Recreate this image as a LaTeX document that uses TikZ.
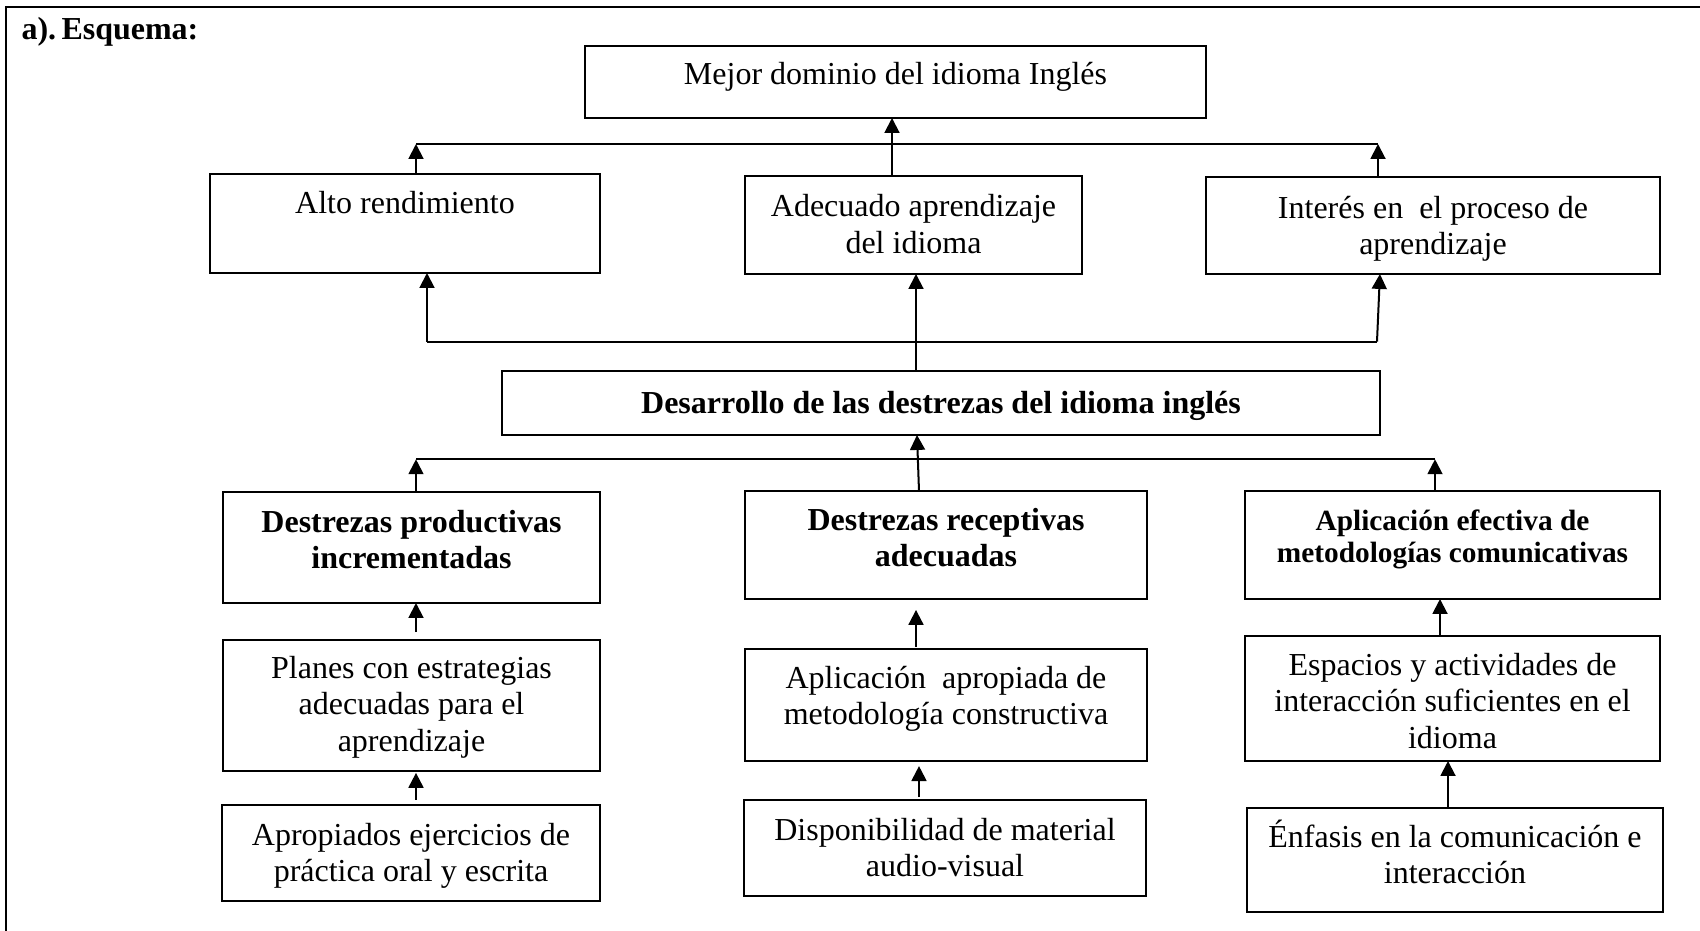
\documentclass[tikz,border=0pt]{standalone}
\usepackage{fontspec}
\setmainfont{Liberation Serif}
\usetikzlibrary{arrows.meta}
\newcommand\mkbox[5]{\node[box, minimum width={(#4-#2)*0.375pt}, minimum height={(#5-#3)*0.375pt}] (#1) at ({(#2+#4)/2},{(#3+#5)/2}) {};}
\newcommand\ml[1]{\begin{tabular}[t]{@{}c@{}}#1\end{tabular}}
\begin{document}
\begin{tikzpicture}[x=0.375pt, y=-0.375pt,
  box/.style={draw, line width=0.75pt, inner sep=0pt, outer sep=0pt},
  txt/.style={inner sep=0pt, anchor=base, font=\fontsize{12}{13.8}\selectfont},
  btxt/.style={txt, font=\fontsize{12}{13.8}\selectfont\bfseries},
  stxt/.style={txt, font=\fontsize{11}{12}\selectfont\bfseries},
  conn/.style={line width=0.75pt},
  arr/.style={conn, -{Triangle[length=5.6pt,width=5.6pt]}}]
\useasboundingbox (0,0) rectangle (1700,931);
% frame
\draw[line width=0.8pt] (1700,7) -- (6,7) -- (6,931);
\node[anchor=base west, inner sep=0pt, font=\fontsize{12}{13.8}\selectfont\bfseries] (title) at (21,39.5) {a).\,Esquema:};
% boxes
\mkbox{top}{585}{46}{1206}{118}
\mkbox{alto}{210}{174}{600}{273}
\mkbox{adec}{745}{176}{1082}{274}
\mkbox{inter}{1206}{177}{1660}{274}
\mkbox{des}{502}{371}{1380}{435}
\mkbox{prod}{223}{492}{600}{603}
\mkbox{recep}{745}{491}{1147}{599}
\mkbox{aplef}{1245}{491}{1660}{599}
\mkbox{planes}{223}{640}{600}{771}
\mkbox{apapr}{745}{649}{1147}{761}
\mkbox{espa}{1245}{636}{1660}{761}
\mkbox{aprop}{222}{805}{600}{901}
\mkbox{dispo}{744}{800}{1146}{896}
\mkbox{enfa}{1247}{808}{1663}{912}
% texts
\node[txt] (top-t) at (895.5,85) {\ml{Mejor dominio del idioma Inglés}};
\node[txt] (alto-t) at (405,214) {\ml{Alto rendimiento}};
\node[txt] (adec-t) at (913.5,217) {\ml{Adecuado aprendizaje\\del idioma}};
\node[txt] (inter-t) at (1433,218) {\ml{Interés en\ \ el proceso de\\aprendizaje}};
\node[btxt] (des-t) at (941,413) {\ml{Desarrollo de las destrezas del idioma inglés}};
\node[btxt] (prod-t) at (411.5,532) {\ml{Destrezas productivas\\incrementadas}};
\node[btxt] (recep-t) at (946,530) {\ml{Destrezas receptivas\\adecuadas}};
\node[stxt] (aplef-t) at (1452.5,530) {\ml{Aplicación efectiva de\\metodologías comunicativas}};
\node[txt] (planes-t) at (411.5,678) {\ml{Planes con estrategias\\adecuadas para el\\aprendizaje}};
\node[txt] (apapr-t) at (946,688) {\ml{Aplicación\ \ apropiada de\\metodología constructiva}};
\node[txt] (espa-t) at (1452.5,675) {\ml{Espacios y actividades de\\interacción suficientes en el\\idioma}};
\node[txt] (aprop-t) at (411,845) {\ml{Apropiados ejercicios de\\práctica oral y escrita}};
\node[txt] (dispo-t) at (945,840) {\ml{Disponibilidad de material\\audio-visual}};
\node[txt] (enfa-t) at (1455,847) {\ml{Énfasis en la comunicación e\\interacción}};
% junction coordinates
\coordinate (jTL) at (416,144);
\coordinate (jTR) at (1378,144);
\coordinate (jTC) at (892,144);
\coordinate (jML) at (427,341.5);
\coordinate (jMR) at (1377,341.5);
\coordinate (jMC) at (916,341.5);
\coordinate (jLL) at (416,459.3);
\coordinate (jLR) at (1435,459.3);
\coordinate (jLC) at (917,459.3);
\coordinate (cR) at (919,0);
\coordinate (cE) at (1440,0);
\coordinate (cF) at (1448,0);
% top level
\draw[conn] (jTL) -- (jTR);
\draw[arr] (alto.north -| jTL) -- (jTL);
\draw[arr] (inter.north -| jTR) -- (jTR);
\draw[arr] (adec.north -| jTC) -- (top.south -| jTC);
% middle level
\draw[conn] (jML) -- (jMR);
\draw[arr] (jML) -- (alto.south -| jML);
\draw[arr] (jMR) -- ([xshift=1.1pt]inter.south -| jMR);
\draw[arr] (des.north -| jMC) -- (adec.south -| jMC);
% lower level
\draw[conn] (jLL) -- (jLR);
\draw[arr] (prod.north -| jLL) -- (jLL);
\draw[arr] (aplef.north -| jLR) -- (jLR);
\draw[arr] (recep.north -| cR) -- (des.south -| jLC);
% column arrows
\draw[arr, shorten <=3pt] (planes.north -| jLL) -- (prod.south -| jLL);
\draw[arr, shorten <=1.9pt, shorten >=0.7pt] (aprop.north -| jLL) -- (planes.south -| jLL);
\draw[arr, shorten <=0.8pt, shorten >=4.1pt] (apapr.north -| jMC) -- (recep.south -| jMC);
\draw[arr, shorten <=1.1pt, shorten >=1.9pt] (dispo.north -| cR) -- (apapr.south -| cR);
\draw[arr] (espa.north -| cE) -- (aplef.south -| cE);
\draw[arr] (enfa.north -| cF) -- (espa.south -| cF);
\end{tikzpicture}
\end{document}
